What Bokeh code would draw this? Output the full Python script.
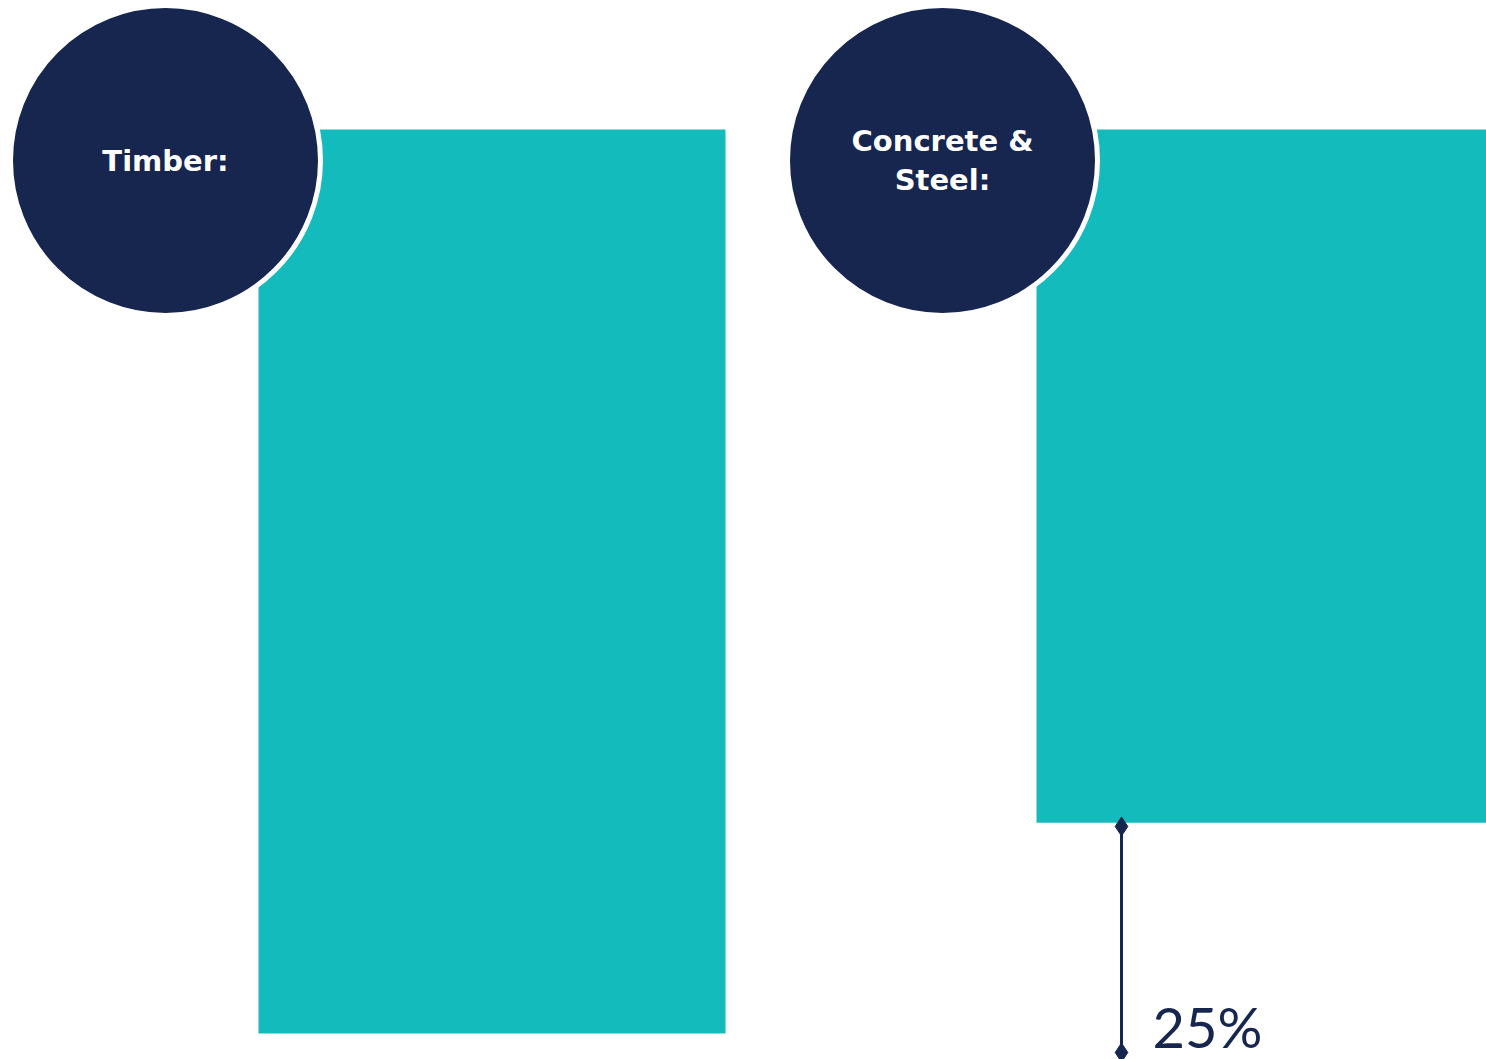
from bokeh.plotting import figure
from bokeh.models import Range1d, ColumnDataSource
from bokeh.core.properties import value
from bokeh.embed import file_html
from bokeh.resources import INLINE

# ---- data ----
categories = ["Timber:", "Concrete &\nSteel:"]
values = [100, 76.7]          # relative embodied quantity (timber = 100)
diff_label = "25%"

# ---- layout (pixel-space helpers) ----
W, H = 1486, 1059
top_px = 129
scale = 9.04                   # pixels per value unit
bar_left = [258, 1036]
bar_right = [725, 1486]
circle_cx = [165, 942]
circle_cy_px = 160

def y_of(py):
    return (top_px - py) / scale

TEAL = "#14BBBC"
NAVY = "#16264F"

p = figure(width=W, height=H, output_backend="svg", toolbar_location=None,
           x_range=Range1d(0, W), y_range=Range1d(y_of(H), y_of(0)),
           min_border=0, outline_line_color=None)
p.axis.visible = False
p.grid.visible = False
p.background_fill_color = "white"
p.border_fill_color = "white"

src = ColumnDataSource(dict(left=bar_left, right=bar_right,
                            top=[0, 0], bottom=[-v for v in values]))
p.quad(left="left", right="right", top="top", bottom="bottom", source=src,
       fill_color=TEAL, line_color=None)

cy = y_of(circle_cy_px)
p.circle(x=circle_cx, y=[cy, cy], radius=155, radius_units="screen",
         fill_color=NAVY, line_color="white", line_width=5)

p.text(x=circle_cx, y=[cy, cy], text=categories, text_color="white",
       text_font=value("DejaVu Sans"), text_font_style="bold", text_font_size="29px",
       text_align="center", text_baseline="middle", text_line_height=1.17)

# difference annotation
ax = 1121
y0 = -values[1]
y1 = -values[0] - 2.1
p.segment(x0=[ax], y0=[y0 - 0.4], x1=[ax], y1=[y1], line_color=NAVY, line_width=3)
p.scatter(x=[ax, ax], y=[y0 - 0.4, y1], marker="diamond", size=19,
          fill_color=NAVY, line_color=NAVY)
p.text(x=[1152], y=[y_of(1026)], text=[diff_label], text_color=NAVY,
       text_font=value("Lato"), text_font_size="56px",
       text_align="left", text_baseline="middle")

open("out.html", "w").write(file_html(p, INLINE))
